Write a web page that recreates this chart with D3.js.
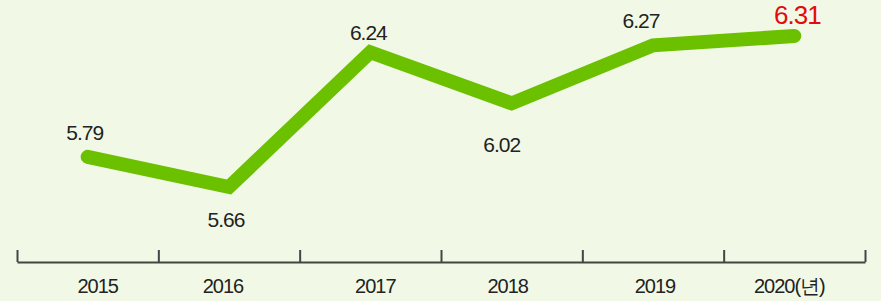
<!DOCTYPE html>
<html>
<head>
<meta charset="utf-8">
<script src="https://cdn.jsdelivr.net/npm/d3@7"></script>
<style>
  html, body { margin: 0; padding: 0; background: #f1f9e6; }
  svg { display: block; }
  text { font-family: "Liberation Sans", Arial, sans-serif; }
</style>
</head>
<body>
<div class="chart"></div>
<script>
// data
const years = ["2015", "2016", "2017", "2018", "2019", "2020"]
const values = [5.79, 5.66, 6.24, 6.02, 6.27, 6.31]
const yearLabels = ["2015", "2016", "2017", "2018", "2019", "2020(년)"]

// label nudges (layout only), [dx, dy] from the point
const valueNudge = [[-3, -17], [-3, 40], [-2, -12], [-10, 49], [-12, -17], [3, -12]]
const yearNudge = [10, -6, 5, -4, 2, -5]

const width = 881, height = 301
const axisY = 262

const svg = d3.select('.chart')
    .append('svg')
    .attr('width', width)
    .attr('height', height)

svg.append('rect')
    .attr('width', width)
    .attr('height', height)
    .attr('fill', '#f1f9e6')

const x = d3.scaleBand()
    .domain(years)
    .range([17, 865])
    .padding(0)

const y = d3.scaleLinear()
    .domain([5.66, 6.31])
    .range([187, 36])

// axis: ticks at band edges
const edges = d3.scaleLinear().domain([0, years.length]).range(x.range())
const axis = d3.axisBottom(edges)
    .tickValues(d3.range(years.length + 1))
    .tickSize(-12)
    .tickSizeOuter(0)
    .tickFormat("")

const g = svg.append('g')
    .attr('transform', `translate(0,${axisY})`)
    .call(axis)
g.select('.domain').attr('stroke', '#444').attr('stroke-width', 2)
g.selectAll('.tick line').attr('stroke', '#444').attr('stroke-width', 2)

svg.selectAll('.year')
    .data(yearLabels)
    .enter()
    .append('text')
    .attr('class', 'year')
    .attr('x', (d, i) => x(years[i]) + x.bandwidth() / 2 + yearNudge[i])
    .attr('y', 293)
    .attr('text-anchor', 'middle')
    .attr('font-size', 20)
    .attr('letter-spacing', -1)
    .attr('fill', '#222')
    .text(d => d)

const line = d3.line()
    .x((d, i) => x(years[i]) + x.bandwidth() / 2)
    .y(d => y(d))

svg.append('path')
    .datum(values)
    .attr('d', line)
    .attr('fill', 'none')
    .attr('stroke', '#6bc000')
    .attr('stroke-width', 14)
    .attr('stroke-linecap', 'round')
    .attr('stroke-linejoin', 'miter')

svg.selectAll('.val')
    .data(values)
    .enter()
    .append('text')
    .attr('class', 'val')
    .attr('x', (d, i) => x(years[i]) + x.bandwidth() / 2 + valueNudge[i][0])
    .attr('y', (d, i) => y(d) + valueNudge[i][1])
    .attr('text-anchor', 'middle')
    .attr('font-size', (d, i) => i === values.length - 1 ? 26 : 21)
    .attr('letter-spacing', -1)
    .attr('fill', (d, i) => i === values.length - 1 ? '#e30b0b' : '#222')
    .text(d => d.toFixed(2))
</script>
</body>
</html>
